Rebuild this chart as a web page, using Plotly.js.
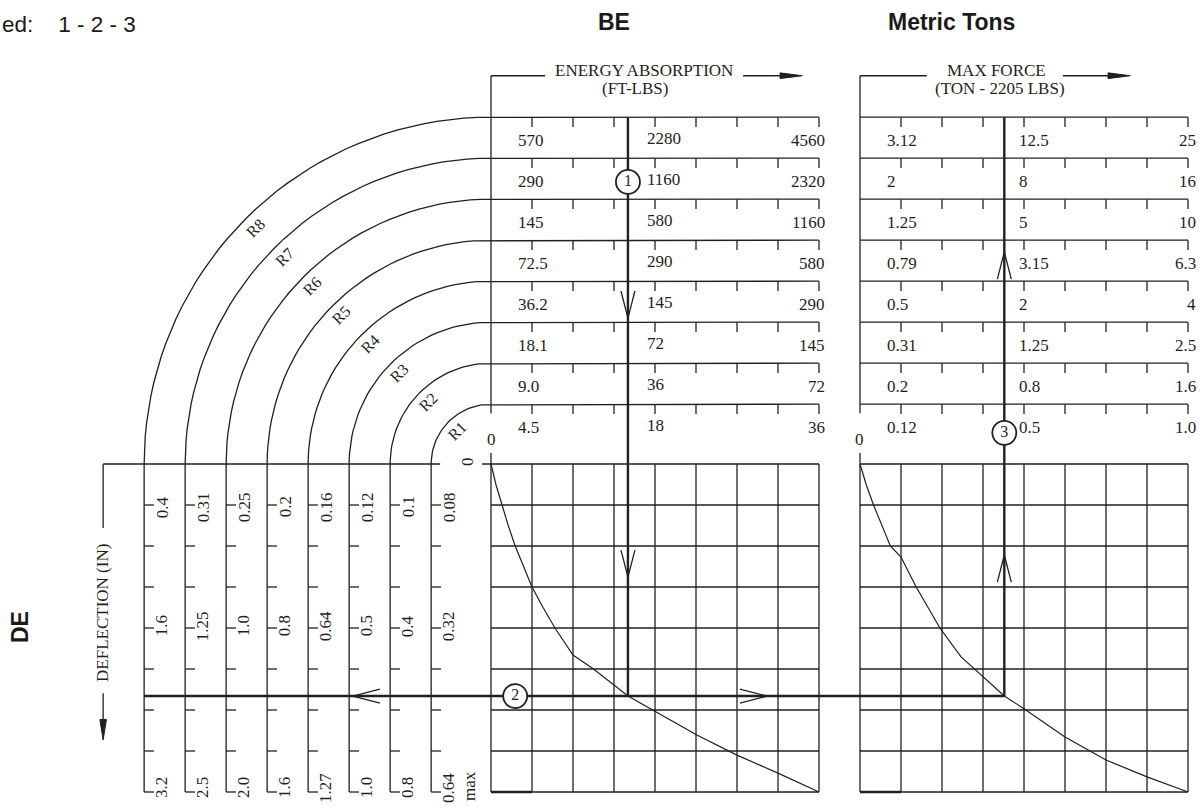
<!DOCTYPE html>
<html><head><meta charset="utf-8">
<script src="https://cdn.plot.ly/plotly-3.0.1.min.js"></script>
<style>html,body{margin:0;padding:0;background:#fff}</style>
</head><body><div id="chart" style="width:1202px;height:807px"></div>
<script>
// ---------------- DATA ----------------
const rowNames    = ['R1','R2','R3','R4','R5','R6','R7','R8'];
const energyLow   = ['4.5','9.0','18.1','36.2','72.5','145','290','570'];
const energyMid   = ['18','36','72','145','290','580','1160','2280'];
const energyHigh  = ['36','72','145','290','580','1160','2320','4560'];
const forceLow    = ['0.12','0.2','0.31','0.5','0.79','1.25','2','3.12'];
const forceMid    = ['0.5','0.8','1.25','2','3.15','5','8','12.5'];
const forceHigh   = ['1.0','1.6','2.5','4','6.3','10','16','25'];
const deflTop     = ['0.08','0.1','0.12','0.16','0.2','0.25','0.31','0.4'];
const deflMid     = ['0.32','0.4','0.5','0.64','0.8','1.0','1.25','1.6'];
const deflBottom  = ['0.64','0.8','1.0','1.27','1.6','2.0','2.5','3.2'];
// characteristic curves, in grid divisions (0..8 across, 0..8 down)
const energyCurveX = [0,0.12,0.27,0.42,0.59,0.79,1,1.27,1.56,2,2.5,3.34,3.95,5.02,6,7,8];
const energyCurveY = [0,0.5,1,1.5,2,2.5,3,3.5,4,4.66,5,5.66,6,6.61,7.1,7.54,8];
const forceCurveX  = [0,0.15,0.33,0.53,0.74,1,1.37,1.95,2.46,3.52,4,5,6,7,8];
const forceCurveY  = [0,0.5,1,1.5,2,2.27,3,4,4.7,5.66,5.97,6.66,7.22,7.63,8];
// worked example (grid divisions)
const exampleEnergyX = 3.34;
const exampleDefl    = 5.66;
const exampleForceX  = 3.52;
const stepLabels = ['1','2','3'];

// ---------------- GEOMETRY ----------------
const W=1202, H=807, PX=41, OX=491, OY=464;
const INK='#231f20';
const SERIF='"Liberation Serif","Times New Roman",serif';
const SANS='"Liberation Sans",Arial,Helvetica,sans-serif';
const R0=1.46;                    // radius of R1 in divisions
const rad = k => R0 + k;
const FX = 9;                      // x offset of force block
const TICK = 0.24;
const HDR = -9.47;

const thin={x:[],y:[]}, thick={x:[],y:[]}, chev={x:[],y:[]}, grid={x:[],y:[]};
function seg(o,x1,y1,x2,y2){o.x.push(x1,x2,null);o.y.push(y1,y2,null);}

// arcs + energy rows + deflection verticals
for(let k=0;k<8;k++){
  const r=rad(k);
  thin.x.push(8,0); thin.y.push(-r,-r);
  for(let i=1;i<=40;i++){const t=i/40*Math.PI/2; thin.x.push(-r*Math.sin(t)); thin.y.push(-r*Math.cos(t));}
  thin.x.push(-r,null); thin.y.push(8,null);
  for(let j=1;j<=8;j++){ seg(thin,j,-r,j,-r+TICK); seg(thin,FX+j,-r,FX+j,-r+TICK); seg(thin,-r,j,-r+TICK,j); }
  seg(thin,FX,-r,FX+8,-r);
}
// block left edges & header brackets
seg(thin,0,HDR,0,-1.24); seg(thin,FX,HDR,FX,-1.24);
seg(thin,0,HDR,1.32,HDR); seg(thin,6.15,HDR,7.1,HDR);
seg(thin,FX,HDR,10.63,HDR); seg(thin,13.95,HDR,15.1,HDR);
seg(thin,-9.46,0,-1.24,0); seg(thin,-9.46,0,-9.46,1.56); seg(thin,-9.46,5.59,-9.46,6.3);
// grids
for(let j=0;j<=8;j++){
  seg(grid,j,j===0?-0.27:0,j,8); seg(grid,FX+j,j===0?-0.27:0,FX+j,8);
  seg(grid,j===0?-0.22:0,j,8,j); seg(grid,FX,j,FX+8,j);
}
// example path
seg(thick,exampleEnergyX,-rad(7),exampleEnergyX,exampleDefl);
seg(thick,-rad(7),exampleDefl,FX+exampleForceX,exampleDefl);
seg(thick,FX+exampleForceX,exampleDefl,FX+exampleForceX,-rad(7));
seg(thick,0,8,1,8); seg(thick,FX,8,FX+1,8);
// open chevrons
function chevron(tx,ty,dx,dy){const L=0.66,h=0.17;const px=-dy,py=dx;
  chev.x.push(tx-L*dx+h*px,tx,tx-L*dx-h*px,null); chev.y.push(ty-L*dy+h*py,ty,ty-L*dy-h*py,null);}
chevron(exampleEnergyX,-3.56,0,1); chevron(exampleEnergyX,2.76,0,1);
chevron(-3.37,exampleDefl,-1,0); chevron(6.73,exampleDefl,1,0);
chevron(FX+exampleForceX,2.22,0,-1); chevron(FX+exampleForceX,-5.17,0,-1);

function tri(tx,ty,dx,dy,L,h){const px=-dy,py=dx;
  return {x:[tx,tx-L*dx+h*px,tx-L*dx-h*px,tx],y:[ty,ty-L*dy+h*py,ty-L*dy-h*py,ty],mode:'lines',fill:'toself',
  fillcolor:INK,line:{color:INK,width:1},hoverinfo:'skip'};}

const traces=[
  {x:grid.x,y:grid.y,mode:'lines',line:{color:INK,width:1.3},hoverinfo:'skip'},
  {x:thin.x,y:thin.y,mode:'lines',line:{color:INK,width:1.3},hoverinfo:'skip'},
  {x:energyCurveX,y:energyCurveY,mode:'lines',line:{color:INK,width:1.2},hoverinfo:'skip'},
  {x:forceCurveX.map(v=>v+FX),y:forceCurveY,mode:'lines',line:{color:INK,width:1.2},hoverinfo:'skip'},
  {x:thick.x,y:thick.y,mode:'lines',line:{color:INK,width:2.4},hoverinfo:'skip'},
  {x:chev.x,y:chev.y,mode:'lines',line:{color:INK,width:1.3},hoverinfo:'skip'},
  tri(7.59,HDR,1,0,0.54,0.07), tri(15.59,HDR,1,0,0.54,0.07), tri(-9.46,6.73,0,1,0.5,0.08),
  {x:[exampleEnergyX,0.59,FX+exampleForceX],y:[-6.88,exampleDefl,-0.76],mode:'markers+text',
   text:stepLabels,textposition:'middle center',textfont:{family:SERIF,size:16,color:INK},
   marker:{symbol:'circle',size:24,color:'#fff',line:{color:INK,width:1.8}},hoverinfo:'skip'}
];

const ann=[];
function A(text,x,y,o={}){ann.push(Object.assign({text,x,y,xref:'x',yref:'y',showarrow:false,
  font:{family:SERIF,size:17,color:INK},xanchor:'center',yanchor:'middle'},o));}
for(let k=0;k<8;k++){
  const r=rad(k);
  A(energyLow[k],0.61,-r+0.58,{xanchor:'left'});
  A(energyMid[k],3.76,-r+0.52,{xanchor:'left'});
  A(energyHigh[k],8.2,-r+0.58,{xanchor:'right'});
  A(forceLow[k],FX+0.61,-r+0.58,{xanchor:'left'});
  A(forceMid[k],FX+3.83,-r+0.58,{xanchor:'left'});
  A(forceHigh[k],FX+8.24,-r+0.58,{xanchor:'right'});
  A(deflTop[k],-r+0.44,1.05,{textangle:-90});
  A(deflMid[k],-r+0.44,3.95,{textangle:-90});
  A(deflBottom[k],-r+0.44,7.9,{textangle:-90});
  const rr=r-0.32, a=Math.PI/4;
  A(rowNames[k],-rr*Math.cos(a),-rr*Math.sin(a),{textangle:-45,font:{family:SERIF,size:16,color:INK}});
}
A('max',-0.51,7.85,{textangle:-90});
A('0',-0.56,-0.05,{textangle:-90});
A('0',0.02,-0.59); A('0',FX-0.02,-0.59);
A('ENERGY ABSORPTION',3.73,-9.6); A('(FT-LBS)',3.5,-9.17);
A('MAX FORCE',12.34,-9.6); A('(TON - 2205 LBS)',12.41,-9.17);
A('DEFLECTION (IN)',-9.46,3.63,{textangle:-90});
A('<b>DE</b>',-11.49,3.98,{textangle:-90,font:{family:SANS,size:23,color:'#1a1a1a'}});
A('<b>BE</b>',3.0,-10.78,{font:{family:SANS,size:23,color:'#1a1a1a'}});
A('<b>Metric Tons</b>',11.22,-10.78,{font:{family:SANS,size:23,color:'#1a1a1a'}});
A('ed:\u00a0\u00a0\u00a0 1 - 2 - 3',-OX/PX,-10.72,{xanchor:'left',font:{family:SANS,size:22.5,color:'#1a1a1a'}});

Plotly.newPlot('chart',traces,{
  width:W,height:H,margin:{l:0,r:0,t:0,b:0},showlegend:false,
  paper_bgcolor:'#fff',plot_bgcolor:'#fff',
  xaxis:{range:[-OX/PX,(W-OX)/PX],visible:false,fixedrange:true},
  yaxis:{range:[(H-OY)/PX,-OY/PX],visible:false,fixedrange:true},
  annotations:ann
},{displayModeBar:false,staticPlot:true});
</script></body></html>
